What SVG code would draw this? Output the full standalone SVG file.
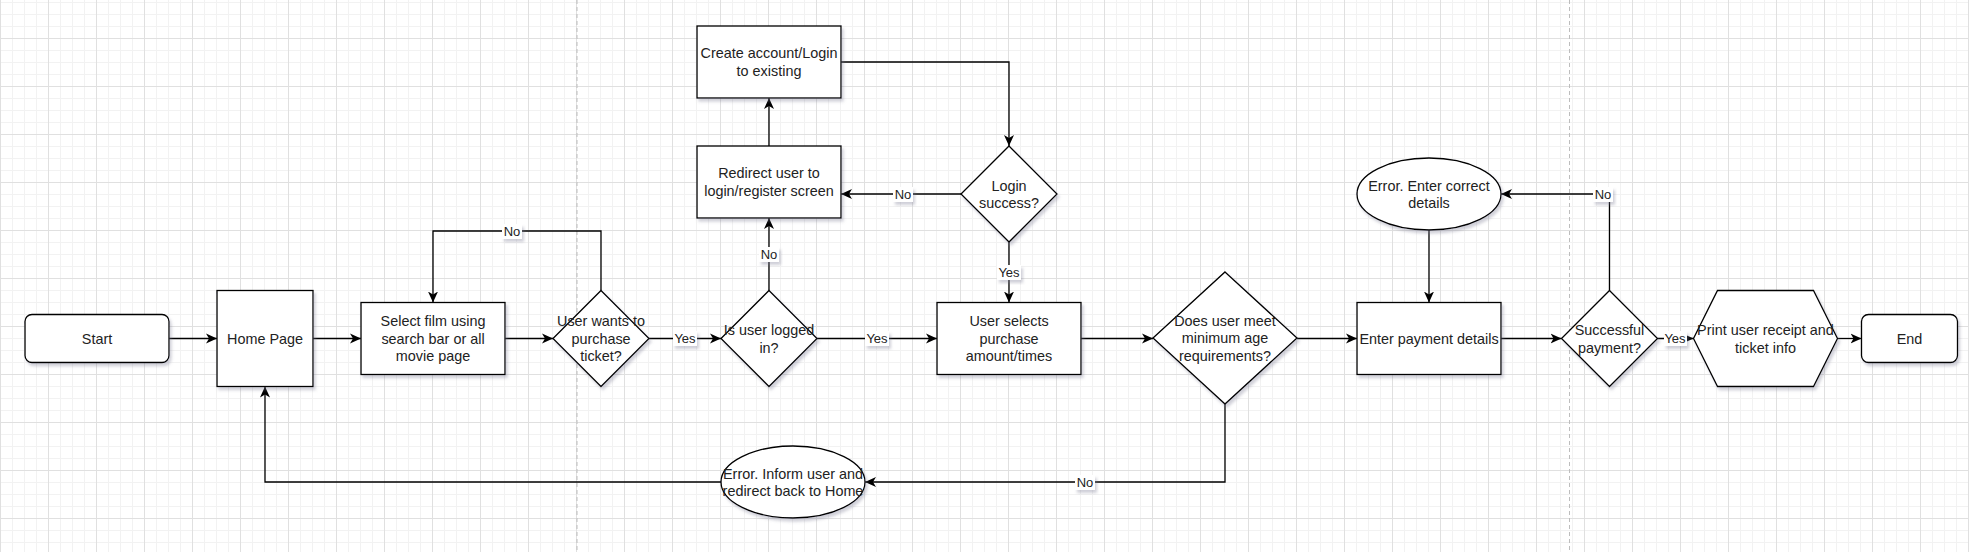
<svg xmlns="http://www.w3.org/2000/svg" width="1969" height="552" viewBox="0 0 1969 552">
  <defs>
    <pattern id="grid" patternUnits="userSpaceOnUse" x="0" y="38" width="48" height="48">
      <path d="M12.5 0V48M24.5 0V48M36.5 0V48M0 12.5H48M0 24.5H48M0 36.5H48" stroke="#f2f2f2" stroke-width="1" fill="none"/>
      <path d="M0.5 0V48M0 0.5H48" stroke="#e0e0e0" stroke-width="1" fill="none"/>
    </pattern>
    <filter id="sh" x="-10%" y="-10%" width="130%" height="140%">
      <feDropShadow dx="2" dy="3" stdDeviation="1.5" flood-color="#7a7a90" flood-opacity="0.35"/>
    </filter>
    <marker id="arr" markerUnits="userSpaceOnUse" markerWidth="14" markerHeight="12" refX="11" refY="6" orient="auto">
      <path d="M0,1 L11,6 L0,11 L3,6 Z" fill="#000"/>
    </marker>
    <style>
      .n { fill: #fff; stroke: #000; stroke-width: 1.3; filter: url(#sh); }
      .t { font-family: "Liberation Sans", Arial, Helvetica, sans-serif; font-size: 14.4px; fill: #222; text-anchor: middle; }
      .e { fill: none; stroke: #000; stroke-width: 1.3; }
      .ea { marker-end: url(#arr); }
      .lb { fill: #fff; filter: url(#sh); }
      .lt { font-family: "Liberation Sans", Arial, Helvetica, sans-serif; font-size: 13px; fill: #222; text-anchor: middle; }
      .sep { stroke: #bdbdbd; stroke-width: 1; stroke-dasharray: 4 3; }
    </style>
  </defs>
  <rect width="1969" height="552" fill="#fff"/>
  <rect width="1969" height="552" fill="url(#grid)"/>
  <line class="sep" x1="577" y1="0" x2="577" y2="552"/>
  <line class="sep" x1="1569.5" y1="0" x2="1569.5" y2="552"/>

  <g id="connectors">
    <path class="e ea" d="M169 338.5H217"/>
    <path class="e ea" d="M313 338.5H361"/>
    <path class="e ea" d="M505 338.5H553"/>
    <path class="e ea" d="M649 338.5H721"/>
    <path class="e ea" d="M601 290.5V231H433V302.5"/>
    <path class="e ea" d="M817 338.5H937"/>
    <path class="e ea" d="M769 290.5V218"/>
    <path class="e ea" d="M769 146V98"/>
    <path class="e ea" d="M841 62H1009V146"/>
    <path class="e ea" d="M961 194H841"/>
    <path class="e ea" d="M1009 242V302.5"/>
    <path class="e ea" d="M1081 338.5H1153"/>
    <path class="e ea" d="M1297 338.5H1357"/>
    <path class="e ea" d="M1225 404V482H865"/>
    <path class="e ea" d="M721 482H265V386.5"/>
    <path class="e ea" d="M1501 338.5H1561.5"/>
    <path class="e ea" d="M1609.5 290.5V194H1501"/>
    <path class="e ea" d="M1429 230V302.5"/>
    <path class="e ea" d="M1657.5 338.5H1693.5"/>
    <path class="e ea" d="M1837.5 338.5H1861.5"/>

    <g id="labels">
      <rect class="lb" x="673" y="331" width="24" height="15"/><text class="lt" x="685" y="343">Yes</text>
      <rect class="lb" x="865" y="331" width="24" height="15"/><text class="lt" x="877" y="343">Yes</text>
      <rect class="lb" x="502" y="224" width="20" height="15"/><text class="lt" x="512" y="236">No</text>
      <rect class="lb" x="759" y="247" width="20" height="15"/><text class="lt" x="769" y="259">No</text>
      <rect class="lb" x="893" y="187" width="20" height="15"/><text class="lt" x="903" y="199">No</text>
      <rect class="lb" x="997" y="265" width="24" height="15"/><text class="lt" x="1009" y="277">Yes</text>
      <rect class="lb" x="1075" y="475" width="20" height="15"/><text class="lt" x="1085" y="487">No</text>
      <rect class="lb" x="1593" y="187" width="20" height="15"/><text class="lt" x="1603" y="199">No</text>
      <rect class="lb" x="1664" y="331" width="23" height="15"/><text class="lt" x="1675" y="343">Yes</text>
    </g>
  </g>

  <g id="start">
    <rect class="n" x="25" y="314.5" width="144" height="48" rx="7"/>
    <text class="t" x="97" y="343.5">Start</text>
  </g>
  <g id="home">
    <rect class="n" x="217" y="290.5" width="96" height="96"/>
    <text class="t" x="265" y="343.5">Home Page</text>
  </g>
  <g id="select-film">
    <rect class="n" x="361" y="302.5" width="144" height="72"/>
    <text class="t" x="433" y="326">Select film using</text>
    <text class="t" x="433" y="343.5">search bar or all</text>
    <text class="t" x="433" y="361">movie page</text>
  </g>
  <g id="wants-purchase">
    <path class="n" d="M601 290.5L649 338.5L601 386.5L553 338.5Z"/>
    <text class="t" x="601" y="326">User wants to</text>
    <text class="t" x="601" y="343.5">purchase</text>
    <text class="t" x="601" y="361">ticket?</text>
  </g>
  <g id="logged-in">
    <path class="n" d="M769 290.5L817 338.5L769 386.5L721 338.5Z"/>
    <text class="t" x="769" y="335">Is user logged</text>
    <text class="t" x="769" y="352.5">in?</text>
  </g>
  <g id="redirect">
    <rect class="n" x="697" y="146" width="144" height="72"/>
    <text class="t" x="769" y="178">Redirect user to</text>
    <text class="t" x="769" y="195.5">login/register screen</text>
  </g>
  <g id="create-account">
    <rect class="n" x="697" y="26" width="144" height="72"/>
    <text class="t" x="769" y="58">Create account/Login</text>
    <text class="t" x="769" y="75.5">to existing</text>
  </g>
  <g id="login-success">
    <path class="n" d="M1009 146L1057 194L1009 242L961 194Z"/>
    <text class="t" x="1009" y="190.5">Login</text>
    <text class="t" x="1009" y="208">success?</text>
  </g>
  <g id="user-selects">
    <rect class="n" x="937" y="302.5" width="144" height="72"/>
    <text class="t" x="1009" y="326">User selects</text>
    <text class="t" x="1009" y="343.5">purchase</text>
    <text class="t" x="1009" y="361">amount/times</text>
  </g>
  <g id="age-check">
    <path class="n" d="M1225 272L1297 338L1225 404L1153 338Z"/>
    <text class="t" x="1225" y="325.5">Does user meet</text>
    <text class="t" x="1225" y="343">minimum age</text>
    <text class="t" x="1225" y="360.5">requirements?</text>
  </g>
  <g id="enter-payment">
    <rect class="n" x="1357" y="302.5" width="144" height="72"/>
    <text class="t" x="1429" y="343.5">Enter payment details</text>
  </g>
  <g id="error-details">
    <ellipse class="n" cx="1429" cy="194" rx="72" ry="36"/>
    <text class="t" x="1429" y="190.5">Error. Enter correct</text>
    <text class="t" x="1429" y="208">details</text>
  </g>
  <g id="payment-success">
    <path class="n" d="M1609.5 290.5L1657.5 338.5L1609.5 386.5L1561.5 338.5Z"/>
    <text class="t" x="1609.5" y="335">Successful</text>
    <text class="t" x="1609.5" y="352.5">payment?</text>
  </g>
  <g id="print-receipt">
    <path class="n" d="M1717.5 290.5H1813.5L1837.5 338.5L1813.5 386.5H1717.5L1693.5 338.5Z"/>
    <text class="t" x="1765.5" y="335">Print user receipt and</text>
    <text class="t" x="1765.5" y="352.5">ticket info</text>
  </g>
  <g id="end">
    <rect class="n" x="1861.5" y="314.5" width="96" height="48" rx="7"/>
    <text class="t" x="1909.5" y="343.5">End</text>
  </g>
  <g id="error-home">
    <ellipse class="n" cx="793" cy="482" rx="72" ry="36"/>
    <text class="t" x="793" y="478.5">Error. Inform user and</text>
    <text class="t" x="793" y="496">redirect back to Home</text>
  </g>
</svg>
